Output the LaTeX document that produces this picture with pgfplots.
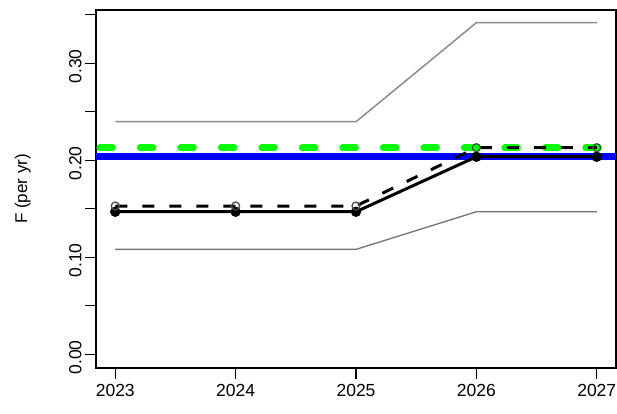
\documentclass[border=0pt]{standalone}
\usepackage{fontspec}
\setmainfont{Liberation Sans}
\usepackage{pgfplots}
\pgfplotsset{compat=1.18}
\definecolor{rgreen}{RGB}{0,255,0}
\definecolor{rblue}{RGB}{0,0,255}
\begin{document}
\begin{tikzpicture}[x=1pt,y=1pt]
\path[use as bounding box] (0,0) rectangle (617,413);
\begin{axis}[
 at={(96pt,45pt)}, anchor=south west,
 scale only axis, width=520pt, height=358pt,
 xmin=2022.84, xmax=2027.16,
 ymin=-0.0141, ymax=0.355,
 xtick={2023,2024,2025,2026,2027},
 xticklabels={2023,2024,2025,2026,2027},
 ytick={0,0.05,0.1,0.15,0.2,0.25,0.3,0.35},
 yticklabels={0.00,,0.10,,0.20,,0.30,},
 axis line style={line width=1.3pt},
 tick style={line width=1.3pt, black},
 tick align=outside,
 major tick length=11pt,
 xtick pos=bottom, ytick pos=left,
 tick label style={font=\fontsize{17.5}{20}\selectfont},
 /pgf/number format/assume math mode=true,
 xticklabel style={yshift=-2pt},
 yticklabel style={rotate=90, anchor=south, xshift=-3pt},
 ylabel={F (per yr)},
 ylabel style={at={(axis description cs:-0.141,0.5)}, anchor=center, font=\fontsize{17}{20}\selectfont},
 clip=true,
]
\addplot[color=black!45, line width=1.5pt] coordinates {(2023,0.2398) (2024,0.2398) (2025,0.2398) (2026,0.3419) (2027,0.3419)};
\addplot[color=black!55, line width=1.3pt] coordinates {(2023,0.1082) (2024,0.1082) (2025,0.1082) (2026,0.147) (2027,0.147)};
\addplot[color=rblue, line width=6.5pt] coordinates {(2022.84,0.2037) (2027.16,0.2037)};
\addplot[color=rgreen, line width=6.5pt, line cap=round, dash pattern=on 13pt off 27.5pt] coordinates {(2022.84+0.03,0.213) (2027.16,0.213)};
\addplot[color=black, line width=3pt, mark=*, mark size=3.6pt, mark options={solid, fill=black}] coordinates {(2023,0.147) (2024,0.147) (2025,0.147) (2026,0.2037) (2027,0.2037)};
\addplot[color=black, line width=3pt, dash pattern=on 12pt off 15pt, mark=o, mark size=4pt, mark options={solid, line width=1.3pt, draw=black!70}] coordinates {(2023,0.1529) (2024,0.1529) (2025,0.1529) (2026,0.213) (2027,0.213)};
\end{axis}
\end{tikzpicture}
\end{document}
